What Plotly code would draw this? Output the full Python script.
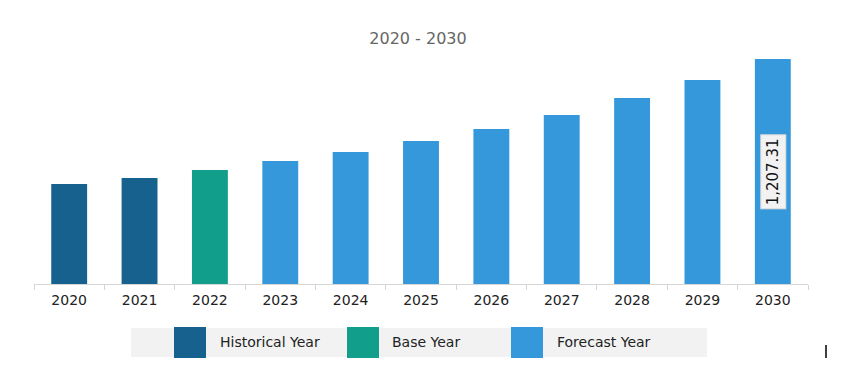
import plotly.graph_objects as go

years = ["2020", "2021", "2022", "2023", "2024", "2025", "2026", "2027", "2028", "2029", "2030"]
values = [536.6, 568.8, 611.7, 660.0, 708.3, 767.3, 831.7, 906.8, 998.0, 1094.6, 1207.31]
kinds = ["Historical Year", "Historical Year", "Base Year"] + ["Forecast Year"] * 8
legend_names = ["Historical Year", "Base Year", "Forecast Year"]
colors = {"Historical Year": "#17618F", "Base Year": "#119E8A", "Forecast Year": "#3498DB"}
title_text = "2020 - 2030"
label_text = "1,207.31"

FONT = "DejaVu Sans"
W, H = 858, 384
OFF = 8  # page body margin
SX0, SX1, SY0, SY1 = 34, 808, 50, 284
L, T = SX0 - OFF, SY0 - OFF
R, B = W - (SX1 - OFF), H - (SY1 - OFF)

def px(x):
    return (x - SX0) / (SX1 - SX0)

def py(y):
    return (SY1 - y) / (SY1 - SY0)

fig = go.Figure()
for name in legend_names:
    xs = [y for y, k in zip(years, kinds) if k == name]
    vs = [v for v, k in zip(values, kinds) if k == name]
    fig.add_trace(go.Bar(x=xs, y=vs, name=name, marker=dict(color=colors[name], line=dict(width=0)),
                         width=0.51, showlegend=False, hoverinfo="x+y"))

ymax = values[-1] * (SY1 - SY0) / 225

fig.add_annotation(x=len(years) - 1, y=values[-1] / 2, xref="x", yref="y", text=label_text,
                   textangle=-90, showarrow=False, font=dict(family=FONT, size=15, color="#111"),
                   bgcolor="#f2f2f2", bordercolor="#dddddd", borderwidth=1, borderpad=3)

shapes = []
annotations = []
shapes.append(dict(type="rect", xref="paper", yref="paper", x0=px(131), x1=px(707), y0=py(357), y1=py(328),
                   fillcolor="#f2f2f2", line=dict(width=0), layer="below"))
sw_x = [174, 347, 511]
tx_x = [218, 390, 555]
for name, sx, tx in zip(legend_names, sw_x, tx_x):
    shapes.append(dict(type="rect", xref="paper", yref="paper", x0=px(sx), x1=px(sx + 32), y0=py(358), y1=py(327),
                       fillcolor=colors[name], line=dict(width=0)))
    annotations.append(dict(x=px(tx), y=py(342), xref="paper", yref="paper", text=name, showarrow=False,
                            xanchor="left", yanchor="middle", font=dict(family=FONT, size=14, color="#222")))
shapes.append(dict(type="line", xref="paper", yref="paper", x0=px(826), x1=px(826), y0=py(358), y1=py(345),
                   line=dict(color="#000", width=1.5)))
for a in annotations:
    fig.add_annotation(**a)

fig.update_layout(
    width=W, height=H,
    margin=dict(l=L, r=R, t=T, b=B, autoexpand=False),
    paper_bgcolor="white", plot_bgcolor="white",
    barmode="overlay",
    title=dict(text=title_text, x=(418 - OFF) / W, xanchor="center", y=1 - (38 - OFF) / H, yanchor="middle",
               font=dict(family=FONT, size=16, color="#666")),
    xaxis=dict(type="category", categoryorder="array", categoryarray=years, showgrid=False,
               range=[-0.5, len(years) - 0.5],
               showline=True, linecolor="#d6d6d6", linewidth=1, ticks="outside", tickson="boundaries",
               ticklen=5, tickcolor="#d6d6d6", tickangle=0, ticklabelstandoff=3,
               tickfont=dict(family=FONT, size=14, color="#222"), zeroline=False),
    yaxis=dict(visible=False, range=[0, ymax], showgrid=False, zeroline=False),
    shapes=shapes,
    font=dict(family=FONT),
)

fig.write_html("out.html")
